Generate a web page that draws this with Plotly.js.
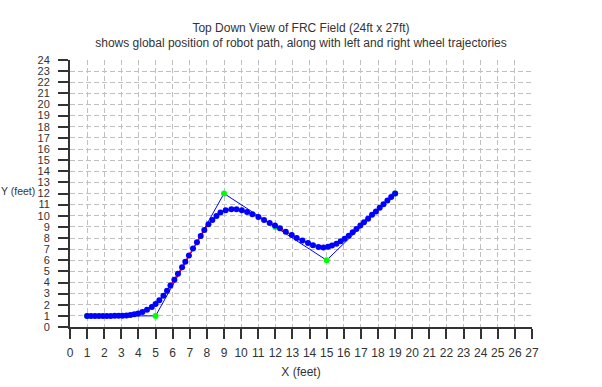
<!DOCTYPE html>
<html>
<head>
<meta charset="utf-8">
<script src="https://cdn.plot.ly/plotly-3.0.1.min.js"></script>
<style>html,body{margin:0;padding:0;background:#fff;}#chart{width:602px;height:387px;}</style>
</head>
<body>
<div id="chart"></div>
<script>
// Waypoints (node-only path)
var waypointX = [1, 5, 9, 12, 15, 19];
var waypointY = [1, 1, 12, 9, 6, 12];

// Smoothed robot path
var pathX = [1.00,1.23,1.46,1.69,1.92,2.15,2.38,2.61,2.84,3.07,3.30,3.53,3.76,3.98,
  4.23,4.50,4.78,5.00,5.22,5.46,5.67,5.87,6.10,6.31,6.55,6.74,6.95,7.19,7.42,7.64,7.85,8.09,8.32,8.56,8.79,
  9.10,9.43,9.73,10.04,10.35,10.66,11.01,11.34,11.67,11.98,12.27,12.61,12.96,13.25,13.58,13.91,14.20,14.52,14.81,
  15.08,15.31,15.57,15.82,16.05,16.29,16.52,16.74,16.97,17.18,17.42,17.65,17.88,18.10,18.32,18.55,18.77,19.00];
var pathY = [1.00,1.00,1.00,1.00,1.00,1.00,1.00,1.01,1.01,1.02,1.04,1.08,1.14,1.22,
  1.35,1.55,1.80,2.06,2.40,2.80,3.25,3.72,4.24,4.78,5.36,5.87,6.43,7.05,7.62,8.17,8.71,9.23,9.62,9.98,10.29,
  10.49,10.59,10.59,10.50,10.34,10.14,9.89,9.62,9.35,9.12,8.88,8.57,8.28,7.99,7.77,7.55,7.35,7.20,7.15,
  7.21,7.33,7.48,7.70,7.94,8.21,8.51,8.82,9.12,9.42,9.72,10.08,10.39,10.71,11.04,11.37,11.68,12.00];

var xTicks = [];
for (var i = 0; i <= 27; i++) xTicks.push(i);
var yTicks = [];
for (var j = 0; j <= 24; j++) yTicks.push(j);

var FONT = '"Liberation Sans", Arial, sans-serif';
var TXT = '#333333';

var traces = [
  {
    x: waypointX, y: waypointY, type: 'scatter', mode: 'lines+markers',
    line: {color: '#0000ff', width: 1},
    marker: {color: '#00ff00', size: 6, symbol: 'circle'},
    showlegend: false, hoverinfo: 'skip'
  },
  {
    x: pathX, y: pathY, type: 'scatter', mode: 'lines+markers',
    line: {color: '#ff0000', width: 1.5},
    marker: {color: '#0000ff', size: 6, symbol: 'circle'},
    showlegend: false, hoverinfo: 'skip'
  }
];

var layout = {
  width: 602, height: 387,
  margin: {l: 70, r: 70, t: 60, b: 60},
  paper_bgcolor: '#ffffff', plot_bgcolor: '#ffffff',
  font: {family: FONT, size: 11, color: TXT},
  showlegend: false,
  title: {
    text: 'Top Down View of FRC Field (24ft x 27ft)<br>shows global position of robot path, along with left and right wheel trajectories',
    font: {family: FONT, size: 12, color: TXT},
    x: 0.5, xanchor: 'center', xref: 'paper', yref: 'container', y: 0.918, yanchor: 'middle'
  },
  xaxis: {
    range: [0, 27], tickvals: xTicks, ticktext: xTicks.map(String),
    showline: true, linecolor: '#333333', linewidth: 2,
    ticks: 'outside', ticklen: 10, tickcolor: '#333333', tickwidth: 2,
    ticklabelstandoff: 4,
    showgrid: true, gridcolor: '#c0c0c0', gridwidth: 1, griddash: '5px,3px',
    zeroline: false, fixedrange: true,
    tickfont: {family: FONT, size: 12, color: TXT},
    title: {text: 'X (feet)', font: {family: FONT, size: 12, color: TXT}, standoff: 8}
  },
  yaxis: {
    range: [0, 24], tickvals: yTicks, ticktext: yTicks.map(String),
    showline: true, linecolor: '#333333', linewidth: 2,
    ticks: 'outside', ticklen: 10, tickcolor: '#333333', tickwidth: 2,
    ticklabelstandoff: 6,
    showgrid: true, gridcolor: '#c0c0c0', gridwidth: 1, griddash: '5px,3px',
    zeroline: false, fixedrange: true,
    tickfont: {family: FONT, size: 11, color: TXT}
  },
  annotations: [
    {text: 'Y (feet)', xref: 'paper', yref: 'paper', x: -0.112, y: 0.508,
     xanchor: 'center', yanchor: 'middle', showarrow: false,
     font: {family: FONT, size: 10.5, color: TXT}}
  ]
};

Plotly.newPlot('chart', traces, layout, {staticPlot: true, displayModeBar: false});
</script>
</body>
</html>
